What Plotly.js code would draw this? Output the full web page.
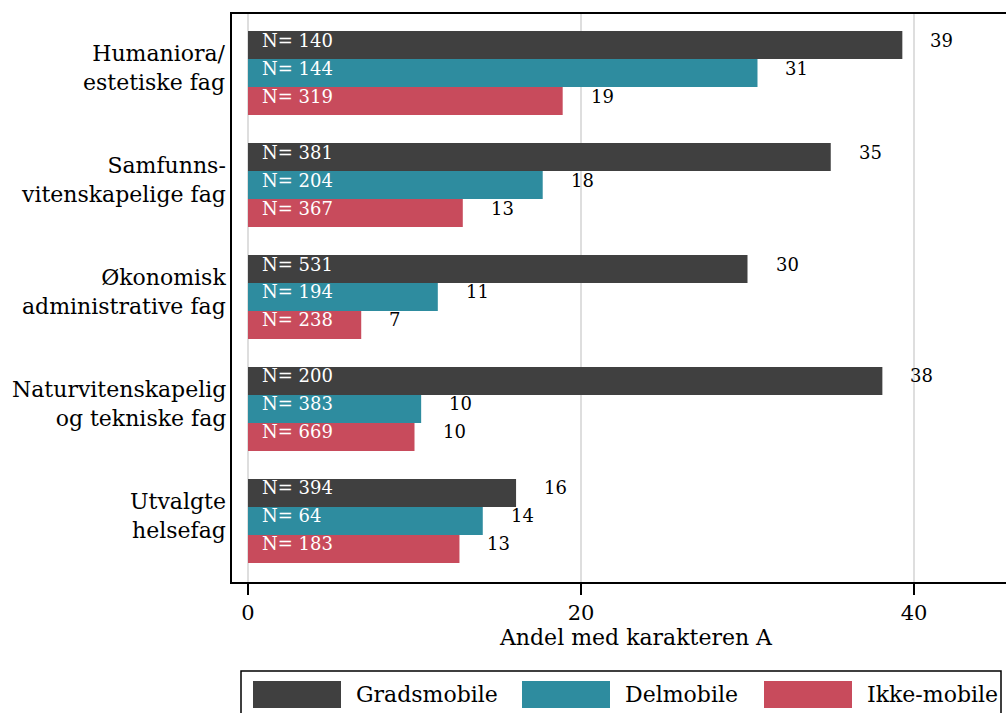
<!DOCTYPE html>
<html>
<head>
<meta charset="utf-8">
<script src="https://cdn.plot.ly/plotly-3.0.1.min.js"></script>
<style>
  html, body { margin: 0; padding: 0; overflow: hidden; background: #fff; }
  #chart { width: 1100px; height: 713px; }
</style>
</head>
<body>
<div id="chart"></div>
<script>
// ---- data ----
const categories = [
  'Humaniora/<br>estetiske fag',
  'Samfunns-<br>vitenskapelige fag',
  'Økonomisk<br>administrative fag',
  'Naturvitenskapelig<br>og tekniske fag',
  'Utvalgte<br>helsefag'
];
const seriesNames = ['Gradsmobile', 'Delmobile', 'Ikke-mobile'];
const gradsmobile = [39.3, 35.0, 30.0, 38.1, 16.1];
const delmobile   = [30.6, 17.7, 11.4, 10.4, 14.1];
const ikkeMobile  = [18.9, 12.9, 6.8, 10.0, 12.7];
const nGradsmobile = [140, 381, 531, 200, 394];
const nDelmobile   = [144, 204, 194, 383, 64];
const nIkkeMobile  = [319, 367, 238, 669, 183];
const xTickVals = [0, 20, 40];

// ---- styling ----
const colors = ['#404040', '#2e8c9f', '#c84b5c'];
const FONT = 'DejaVu Serif';
const W = 1100, H = 713;
const M = { l: 232, r: 60, t: 14, b: 131 };

const values = [gradsmobile, delmobile, ikkeMobile];
const counts = [nGradsmobile, nDelmobile, nIkkeMobile];

const traces = values.map((v, j) => ({
  type: 'bar',
  orientation: 'h',
  name: seriesNames[j],
  x: v,
  y: categories,
  marker: { color: colors[j], line: { width: 0 } },
  hoverinfo: 'none',
  showlegend: false
}));

const plotW = W - M.l - M.r, plotH = H - M.t - M.b;
const px = p => (p - M.l) / plotW;
const py = p => (H - M.b - p) / plotH;

const annotations = [];
// category labels
categories.forEach((c, i) => {
  annotations.push({
    xref: 'paper', yref: 'y', x: px(228), y: i,
    text: c, showarrow: false, xanchor: 'right', yanchor: 'middle', align: 'right',
    yshift: 5,
    font: { family: FONT, size: 22, color: '#000' }
  });
});
const groupW = 0.75, barW = groupW / 3;
values.forEach((v, j) => {
  v.forEach((val, i) => {
    const yPos = i - groupW / 2 + barW * (j + 0.5);
    annotations.push({
      x: 0, y: yPos, xref: 'x', yref: 'y',
      text: 'N= ' + counts[j][i],
      showarrow: false, xanchor: 'left', yanchor: 'middle',
      xshift: 12, yshift: 5,
      font: { family: FONT, size: 18, color: '#ffffff' }
    });
    annotations.push({
      x: val, y: yPos, xref: 'x', yref: 'y',
      text: String(Math.round(val)),
      showarrow: false, xanchor: 'left', yanchor: 'middle',
      xshift: 26, yshift: 5,
      font: { family: FONT, size: 18, color: '#000000' }
    });
  });
});

// legend built from shapes & annotations (pixel layout -> paper coords)
const shapes = [{
  type: 'rect', xref: 'paper', yref: 'paper',
  x0: px(241), x1: px(1001), y0: py(671), y1: py(730),
  line: { color: '#000', width: 1.5 }, fillcolor: 'rgba(0,0,0,0)'
}];
const swatchX = [253, 522, 764];
seriesNames.forEach((nm, j) => {
  shapes.push({
    type: 'rect', xref: 'paper', yref: 'paper',
    x0: px(swatchX[j]), x1: px(swatchX[j] + 88), y0: py(681), y1: py(708),
    line: { width: 0 }, fillcolor: colors[j]
  });
  annotations.push({
    xref: 'paper', yref: 'paper', x: px(swatchX[j] + 101), y: py(694),
    text: nm, showarrow: false, xanchor: 'left', yanchor: 'middle',
    font: { family: FONT, size: 22, color: '#000' }
  });
});

const x0px = 248, pxPerUnit = 16.65;
const layout = {
  width: W, height: H,
  margin: M,
  paper_bgcolor: '#fff', plot_bgcolor: '#fff',
  barmode: 'group', bargap: 0.25, bargroupgap: 0,
  showlegend: false,
  font: { family: FONT, color: '#000' },
  xaxis: {
    range: [(M.l - x0px) / pxPerUnit, (W - M.r - x0px) / pxPerUnit],
    tickvals: xTickVals,
    ticks: 'outside', ticklen: 11, tickwidth: 1.5, tickcolor: '#000',
    tickfont: { family: FONT, size: 21 },
    showgrid: true, gridcolor: '#dedede', gridwidth: 2,
    zeroline: false,
    showline: true, linecolor: '#000', linewidth: 2, mirror: true,
    title: { text: 'Andel med karakteren A', font: { family: FONT, size: 22 }, standoff: 4 }
  },
  yaxis: {
    type: 'category',
    range: [4.545, -0.527],
    showgrid: false, zeroline: false,
    ticks: '', showticklabels: false,
    showline: true, linecolor: '#000', linewidth: 2, mirror: true
  },
  annotations: annotations,
  shapes: shapes
};

Plotly.newPlot('chart', traces, layout, { staticPlot: true, displayModeBar: false });
</script>
</body>
</html>
